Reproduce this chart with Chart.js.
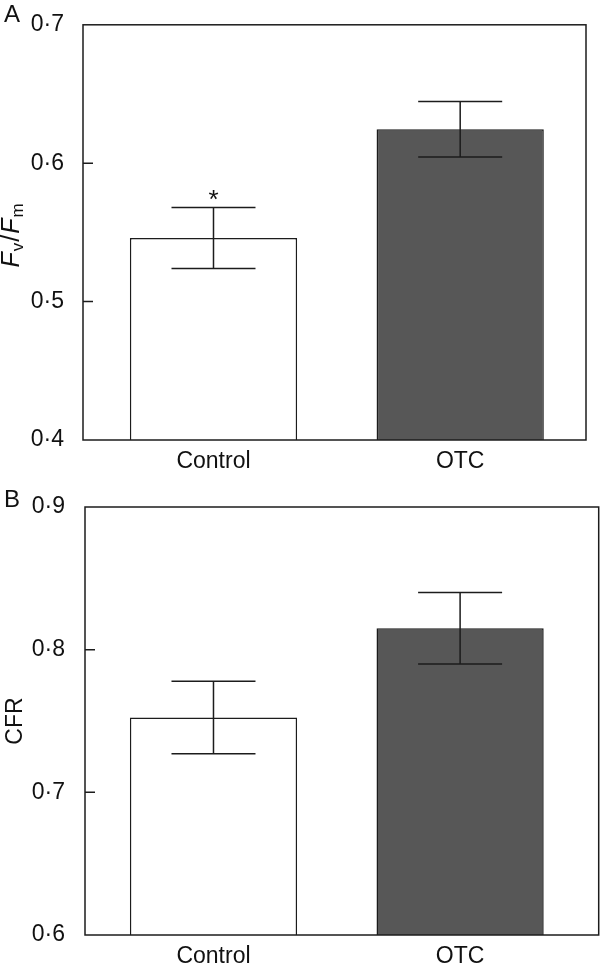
<!DOCTYPE html>
<html>
<head>
<meta charset="utf-8">
<script src="https://cdn.jsdelivr.net/npm/chart.js@4.4.0/dist/chart.umd.min.js"></script>
<style>
body { margin: 0; background: #fff; }
#boxA { position: absolute; left: 0; top: 0; width: 600px; height: 480px; }
#boxB { position: absolute; left: 0; top: 480px; width: 600px; height: 485px; }
</style>
</head>
<body>
<div id="boxA"><canvas id="fvfm"></canvas></div>
<div id="boxB"><canvas id="cfr"></canvas></div>
<script>
// datos
var categorias = ['Control', 'OTC'];
var fvfmMedias = [0.546, 0.6245];
var fvfmErrores = [0.022, 0.020];
var cfrMedias = [0.7525, 0.815];
var cfrErrores = [0.0254, 0.025];
var fvfmTicks = [0.4, 0.5, 0.6, 0.7];
var cfrTicks = [0.6, 0.7, 0.8, 0.9];
var significancia = ['*', ''];
var coloresBarras = ['#ffffff', '#575757'];

var FUENTE = '"Liberation Sans", Arial, Helvetica, sans-serif';
var LINEA = '#1c1c1c';

function puntos(medias) {
    return medias.map(function (v, i) { return { x: i, y: v }; });
}

// marco, ticks hacia dentro, barras de error, letras y titulo del eje
var decoracion = {
    id: 'decoracion',
    afterDatasetsDraw: function (chart, args, opts) {
        var ctx = chart.ctx;
        var area = chart.chartArea;
        var y = chart.scales.y;
        var meta = chart.getDatasetMeta(0);

        ctx.save();
        ctx.strokeStyle = LINEA;
        ctx.lineWidth = 1.5;

        // barras de error
        meta.data.forEach(function (bar, i) {
            var sup = y.getPixelForValue(opts.medias[i] + opts.errores[i]);
            var inf = y.getPixelForValue(opts.medias[i] - opts.errores[i]);
            ctx.beginPath();
            ctx.moveTo(bar.x, sup); ctx.lineTo(bar.x, inf);
            ctx.moveTo(bar.x - 42, sup); ctx.lineTo(bar.x + 42, sup);
            ctx.moveTo(bar.x - 42, inf); ctx.lineTo(bar.x + 42, inf);
            ctx.stroke();
            if (opts.marcas && opts.marcas[i]) {
                ctx.fillStyle = '#111';
                ctx.font = '26px ' + FUENTE;
                ctx.textAlign = 'center';
                ctx.textBaseline = 'alphabetic';
                ctx.fillText(opts.marcas[i], bar.x, sup + 1);
            }
        });

        // marco
        ctx.strokeRect(area.left, area.top, area.right - area.left, area.bottom - area.top);

        // ticks hacia dentro
        ctx.beginPath();
        y.ticks.forEach(function (t) {
            var py = y.getPixelForValue(t.value);
            if (Math.abs(py - area.top) < 2 || Math.abs(py - area.bottom) < 2) return;
            ctx.moveTo(area.left, py); ctx.lineTo(area.left + 10, py);
        });
        ctx.stroke();

        // letra del panel
        ctx.fillStyle = '#111';
        ctx.font = '24px ' + FUENTE;
        ctx.textAlign = 'left';
        ctx.textBaseline = 'alphabetic';
        ctx.fillText(opts.letra, 4, opts.letraY);

        // titulo del eje y (rotado)
        ctx.translate(opts.tituloX, (area.top + area.bottom) / 2 + opts.tituloDy);
        ctx.rotate(-Math.PI / 2);
        var total = 0;
        opts.titulo.forEach(function (p) {
            ctx.font = (p.italic ? 'italic ' : '') + p.size + 'px ' + FUENTE;
            total += ctx.measureText(p.t).width + (p.sep || 0);
        });
        var cx = -total / 2;
        opts.titulo.forEach(function (p) {
            ctx.font = (p.italic ? 'italic ' : '') + p.size + 'px ' + FUENTE;
            ctx.fillText(p.t, cx, p.dy || 0);
            cx += ctx.measureText(p.t).width + (p.sep || 0);
        });
        ctx.restore();
    }
};

function crearPanel(id, medias, errores, ticks, cfg) {
    return new Chart(document.getElementById(id), {
        type: 'bar',
        data: {
            datasets: [{
                data: puntos(medias),
                backgroundColor: coloresBarras,
                borderColor: LINEA,
                borderWidth: 1.5,
                borderSkipped: 'start',
                categoryPercentage: 1,
                barPercentage: 0.678
            }]
        },
        options: {
            responsive: true,
            maintainAspectRatio: false,
            animation: false,
            layout: { padding: { top: cfg.top, right: cfg.right, left: 0, bottom: 0 } },
            plugins: {
                legend: { display: false },
                tooltip: { enabled: false },
                decoracion: {
                    medias: medias,
                    errores: errores,
                    marcas: cfg.marcas,
                    letra: cfg.letra,
                    letraY: cfg.letraY,
                    titulo: cfg.titulo,
                    tituloX: cfg.tituloX,
                    tituloDy: cfg.tituloDy
                }
            },
            scales: {
                x: {
                    type: 'linear',
                    offset: false,
                    min: cfg.xMin,
                    max: cfg.xMax,
                    grid: { display: false },
                    border: { display: false },
                    afterBuildTicks: function (s) {
                        s.ticks = categorias.map(function (c, i) { return { value: i }; });
                    },
                    afterFit: function (s) { s.height = cfg.xAlto; },
                    ticks: {
                        padding: 0,
                        color: '#111',
                        font: { family: FUENTE, size: 23 },
                        maxRotation: 0,
                        autoSkip: false,
                        callback: function (v) { return categorias[v]; }
                    }
                },
                y: {
                    min: ticks[0],
                    max: ticks[ticks.length - 1],
                    grid: { display: false },
                    border: { display: false },
                    afterBuildTicks: function (s) {
                        s.ticks = ticks.map(function (v) { return { value: v }; });
                    },
                    afterFit: function (s) { s.width = cfg.yAncho; },
                    ticks: {
                        padding: cfg.yPad,
                        color: '#111',
                        font: { family: FUENTE, size: 23 },
                        callback: function (v) { return v.toFixed(1).replace('.', '\u00b7'); }
                    }
                }
            }
        },
        plugins: [decoracion]
    });
}

crearPanel('fvfm', fvfmMedias, fvfmErrores, fvfmTicks, {
    top: 21, right: 14, xAlto: 40, yAncho: 83, yPad: 11,
    xMin: -0.529, xMax: 1.510,
    marcas: significancia, letra: 'A', letraY: 22,
    tituloX: 19, tituloDy: 3,
    titulo: [
        { t: 'F', italic: true, size: 25, sep: 1 },
        { t: 'v', size: 17, dy: 4, sep: 1 },
        { t: '/', size: 25, sep: 1 },
        { t: 'F', italic: true, size: 25, sep: 1 },
        { t: 'm', size: 17, dy: 4 }
    ]
});

crearPanel('cfr', cfrMedias, cfrErrores, cfrTicks, {
    top: 27, right: 1.3, xAlto: 30, yAncho: 85, yPad: 12,
    xMin: -0.521, xMax: 1.562,
    marcas: null, letra: 'B', letraY: 27,
    tituloX: 22, tituloDy: 0,
    titulo: [{ t: 'CFR', size: 23 }]
});
</script>
</body>
</html>
